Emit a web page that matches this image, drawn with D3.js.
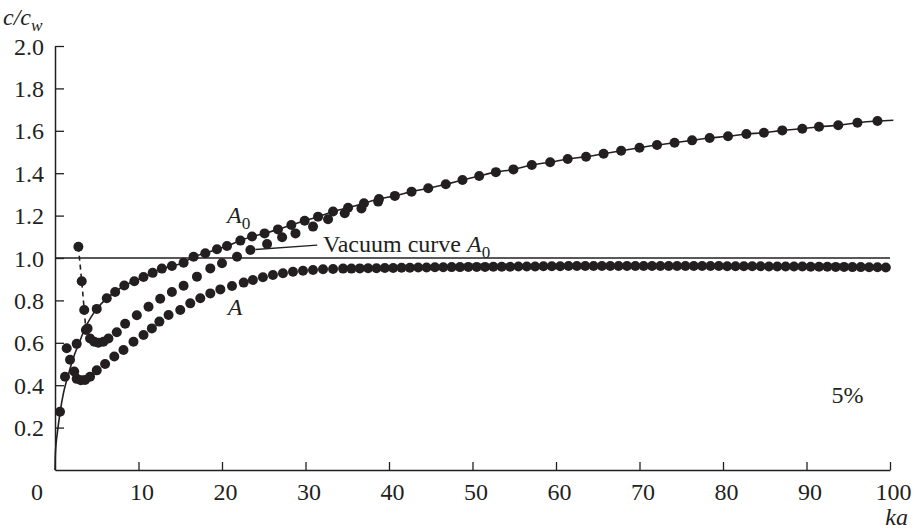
<!DOCTYPE html>
<html>
<head>
<meta charset="utf-8">
<script src="https://cdn.jsdelivr.net/npm/d3@7"></script>
<style>
  html, body { margin: 0; padding: 0; background: #fff; }
  svg { display: block; }
  text { font-family: "Liberation Serif", "Times New Roman", serif; fill: #231f20; }
</style>
</head>
<body>
<svg id="chart" width="917" height="529"></svg>
<script>
// Phase velocity c/c_w versus ka, 5% case

const xTicks = [10, 20, 30, 40, 50, 60, 70, 80, 90, 100];
const yTicks = [0.2, 0.4, 0.6, 0.8, 1.0, 1.2, 1.4, 1.6, 1.8, 2.0];

// upper branch, labelled A0: [ka, c/cw]
const curveA0 = [
  [1.4, 0.574], [2.6, 0.595], [3.9, 0.668], [5.0, 0.76], [6.2, 0.81], [7.2, 0.84],
  [8.3, 0.87], [9.5, 0.89], [10.6, 0.91], [11.7, 0.93], [12.8, 0.95], [14.0, 0.962],
  [15.4, 0.978], [16.6, 1.006], [18.0, 1.022], [19.4, 1.041], [20.6, 1.057], [22.2, 1.082],
  [23.6, 1.101], [25.1, 1.116], [26.7, 1.135], [28.3, 1.156], [29.9, 1.176], [31.5, 1.195],
  [33.3, 1.219], [35.1, 1.237], [37.0, 1.258], [38.8, 1.278], [40.7, 1.293], [42.7, 1.313],
  [44.7, 1.329], [46.8, 1.348], [48.8, 1.368], [50.8, 1.387], [52.8, 1.405], [54.9, 1.418],
  [57.1, 1.439], [59.3, 1.452], [61.4, 1.467], [63.6, 1.478], [65.7, 1.492], [67.8, 1.506],
  [70.0, 1.520], [72.1, 1.533], [74.2, 1.544], [76.3, 1.555], [78.4, 1.566], [80.6, 1.574],
  [82.8, 1.585], [84.9, 1.591], [87.1, 1.602], [89.5, 1.610], [91.5, 1.619], [93.8, 1.626],
  [96.1, 1.638], [98.5, 1.646]
];

// middle branch: spike near ka = 3 joined by a dashed stroke
const spikeA0 = [[2.8, 1.053], [3.2, 0.89], [3.5, 0.755]];
const middleA0 = [
  [3.7, 0.66], [4.2, 0.62], [4.7, 0.605], [5.2, 0.60], [5.8, 0.605], [6.4, 0.62],
  [7.4, 0.65], [8.4, 0.69], [9.8, 0.73], [11.2, 0.77], [12.6, 0.808], [14.0, 0.84],
  [15.4, 0.869], [17.0, 0.912], [18.6, 0.951], [20.0, 0.975], [21.8, 1.006], [23.4, 1.038],
  [25.4, 1.066], [27.2, 1.098], [28.8, 1.116], [30.9, 1.148], [32.7, 1.183], [34.7, 1.211],
  [36.7, 1.234], [38.7, 1.266]
];

// lower branch, labelled A
const curveA = [
  [0.6, 0.275], [1.2, 0.44], [1.8, 0.52], [2.3, 0.465], [2.6, 0.43], [3.1, 0.423],
  [3.6, 0.425], [4.2, 0.44], [5.0, 0.47], [6.0, 0.50], [7.1, 0.535], [8.2, 0.566],
  [9.4, 0.605], [10.6, 0.637], [11.6, 0.668], [12.5, 0.70], [13.6, 0.731], [15.0, 0.755],
  [16.2, 0.786], [17.4, 0.81], [18.6, 0.833], [19.8, 0.852], [21.2, 0.868], [22.6, 0.884],
  [23.7, 0.896], [24.9, 0.909], [26.1, 0.92], [27.3, 0.928], [28.5, 0.935], [29.7, 0.94],
  [30.9, 0.943], [32.1, 0.947], [33.3, 0.948], [34.5, 0.95],
  [35.5, 0.950], [36.5, 0.951], [37.5, 0.952], [38.5, 0.952], [39.5, 0.953], [40.5, 0.953],
  [41.5, 0.954], [42.5, 0.954], [43.5, 0.955], [44.5, 0.955], [45.5, 0.956], [46.5, 0.956],
  [47.5, 0.957], [48.5, 0.957], [49.5, 0.958], [50.5, 0.958], [51.5, 0.958], [52.5, 0.959],
  [53.5, 0.959], [54.5, 0.959], [55.5, 0.960], [56.5, 0.960], [57.5, 0.960], [58.5, 0.961],
  [59.5, 0.961], [60.5, 0.961], [61.5, 0.962], [62.5, 0.962], [63.5, 0.962], [64.5, 0.962],
  [65.5, 0.962], [66.5, 0.962], [67.5, 0.962], [68.5, 0.962], [69.5, 0.962], [70.5, 0.962],
  [71.5, 0.962], [72.5, 0.962], [73.5, 0.962], [74.5, 0.962], [75.5, 0.962], [76.5, 0.962],
  [77.5, 0.962], [78.5, 0.962], [79.5, 0.962], [80.5, 0.961], [81.5, 0.961], [82.5, 0.961],
  [83.5, 0.961], [84.5, 0.961], [85.5, 0.960], [86.5, 0.960], [87.5, 0.960], [88.5, 0.960],
  [89.5, 0.960], [90.5, 0.959], [91.5, 0.959], [92.5, 0.959], [93.5, 0.958], [94.5, 0.958],
  [95.5, 0.957], [96.5, 0.957], [97.5, 0.956], [98.5, 0.956], [99.5, 0.955]
];

// vacuum A0 dispersion curve near the origin, then along the upper branch
const vacuumLow = [
  [0, 0], [0.03, 0.06], [0.1, 0.11], [0.28, 0.175], [0.6, 0.27], [1.0, 0.36],
  [1.6, 0.45], [2.2, 0.53], [2.9, 0.6], [3.6, 0.67], [4.3, 0.72]
];
const vacuumEnd = [100.4, 1.65];
const vacuumA0 = vacuumLow.concat(curveA0.filter(d => d[0] >= 5), [vacuumEnd]);

// water sound speed reference
const unityLevel = 1.0;

const ink = "#231f20";
const svg = d3.select("#chart");

const x = d3.scaleLinear().domain([0, 100]).range([55, 890]);
const y = d3.scaleLinear().domain([0, 2]).range([470, 46]);

// axes with inward ticks
const xAxis = svg.append("g")
  .attr("transform", `translate(0,${y(0)})`)
  .call(d3.axisBottom(x).tickValues(xTicks).tickSize(-8).tickSizeOuter(0).tickFormat(d3.format("d")));
xAxis.selectAll("text").attr("y", 30).attr("dy", 0).attr("dx", 3).style("font-size", "24px");

const yAxis = svg.append("g")
  .attr("transform", `translate(${x(0)},0)`)
  .call(d3.axisLeft(y).tickValues(yTicks).tickSize(-9).tickSizeOuter(0).tickFormat(d3.format(".1f")));
yAxis.selectAll("text").attr("x", -11).attr("dy", "0.34em").style("font-size", "24px");

[xAxis, yAxis].forEach(g => {
  g.select(".domain").attr("stroke", ink).attr("stroke-width", 1.5);
  g.selectAll(".tick line").attr("stroke", ink).attr("stroke-width", 1.3);
  g.selectAll("text").attr("fill", ink).style("font-family", '"Liberation Serif", serif');
});

// origin label
svg.append("text").attr("x", 37).attr("y", 500).attr("text-anchor", "middle")
  .style("font-size", "24px").text("0");

// c/c_w = 1 reference line
svg.append("line")
  .attr("x1", x(0)).attr("x2", x(100))
  .attr("y1", y(unityLevel)).attr("y2", y(unityLevel))
  .attr("stroke", ink).attr("stroke-width", 1.3);

const line = d3.line().x(d => x(d[0])).y(d => y(d[1]));

// vacuum curve
svg.append("path")
  .datum(vacuumA0)
  .attr("d", line.curve(d3.curveMonotoneX))
  .attr("fill", "none").attr("stroke", ink).attr("stroke-width", 1.6);

// dashed spike
const spikePath = spikeA0.concat([middleA0[0]]);
svg.append("path")
  .datum(spikePath)
  .attr("d", d3.line().x(d => x(d[0])).y(d => y(d[1])))
  .attr("fill", "none").attr("stroke", ink).attr("stroke-width", 1.6)
  .attr("stroke-dasharray", "5,4");

// leader for the vacuum curve label
const leaderFrom = [24.0, 1.04];
const leaderTo = [31.4, 1.061];
svg.append("line")
  .attr("x1", x(leaderFrom[0])).attr("y1", y(leaderFrom[1]))
  .attr("x2", x(leaderTo[0])).attr("y2", y(leaderTo[1]))
  .attr("stroke", ink).attr("stroke-width", 1.3);

// markers
const dotR = 5;
[curveA, middleA0, spikeA0, curveA0].forEach(series => {
  svg.append("g").selectAll("circle").data(series).join("circle")
    .attr("cx", d => x(d[0])).attr("cy", d => y(d[1])).attr("r", dotR)
    .attr("fill", ink);
});

// labels
function subLabel(px, py, main, sub, italicSub, size) {
  const t = svg.append("text").attr("x", px).attr("y", py).style("font-size", size + "px");
  t.append("tspan").style("font-style", "italic").text(main);
  t.append("tspan").attr("dy", size * 0.25).style("font-size", (size * 0.72) + "px")
    .style("font-style", italicSub ? "italic" : "normal").text(sub);
  return t;
}

subLabel(3, 25, "c/c", "w", true, 24);
subLabel(x(20.6), y(1.165), "A", "0", false, 24);

svg.append("text").attr("x", x(20.7)).attr("y", y(0.731))
  .style("font-size", "24px").style("font-style", "italic").text("A");

const vac = svg.append("text").attr("x", x(32.1)).attr("y", y(1.03)).style("font-size", "24px");
vac.append("tspan").text("Vacuum curve ");
vac.append("tspan").style("font-style", "italic").text("A");
vac.append("tspan").attr("dy", 6).style("font-size", "17px").text("0");

svg.append("text").attr("x", x(94.9)).attr("y", y(0.316)).attr("text-anchor", "middle")
  .style("font-size", "24px").text("5%");

svg.append("text").attr("x", 908).attr("y", 525).attr("text-anchor", "end")
  .style("font-size", "24px").style("font-style", "italic").text("ka");
</script>
</body>
</html>
